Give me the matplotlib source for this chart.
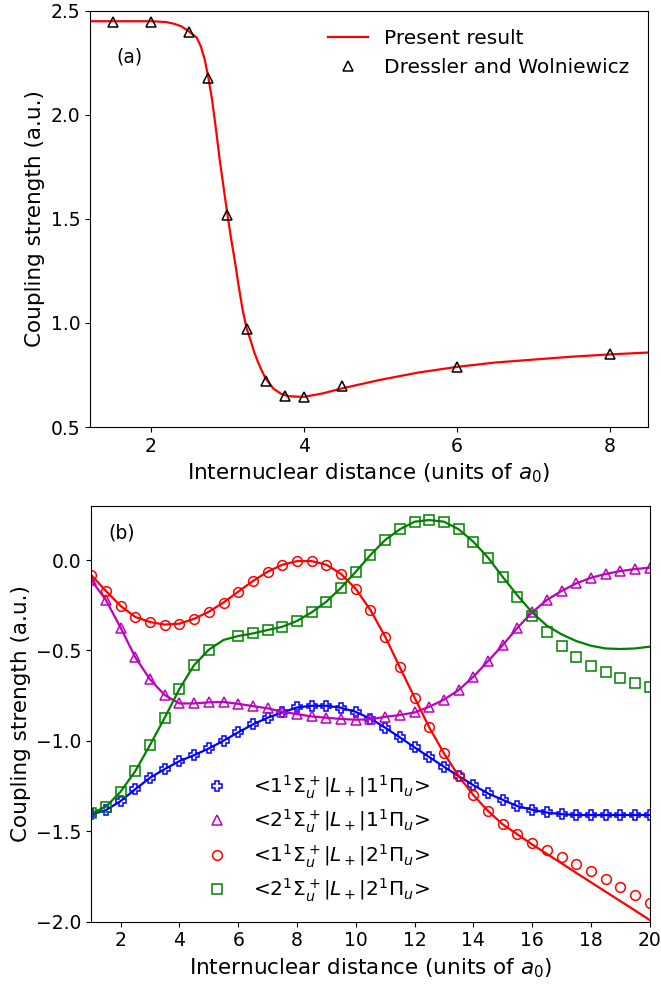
import numpy as np
import matplotlib
matplotlib.use("Agg")
import matplotlib.pyplot as plt

# ---------------- panel (a): coupling strength vs R ----------------
a_line_r = [1.2, 2.0, 2.2, 2.3, 2.4, 2.5, 2.6, 2.65, 2.7, 2.75, 2.8, 2.85,
            2.9, 2.95, 3.0, 3.05, 3.1, 3.15, 3.2, 3.25, 3.3, 3.35, 3.4, 3.45,
            3.5, 3.6, 3.7, 3.8, 4.0, 4.25, 4.5, 5.0, 5.5, 6.0, 6.5, 7.0,
            7.5, 8.0, 8.5]
a_line_val = [2.45, 2.45, 2.446, 2.438, 2.425, 2.40, 2.37, 2.33, 2.27, 2.18,
              2.07, 1.93, 1.78, 1.65, 1.52, 1.40, 1.29, 1.17, 1.06, 0.975,
              0.92, 0.86, 0.812, 0.77, 0.733, 0.685, 0.66, 0.648, 0.645,
              0.662, 0.686, 0.727, 0.762, 0.789, 0.81, 0.824, 0.838, 0.849,
              0.858]
dw_r = [1.5, 2.0, 2.5, 2.75, 3.0, 3.25, 3.5, 3.75, 4.0, 4.5, 6.0, 8.0]
dw_val = [2.447, 2.444, 2.396, 2.178, 1.521, 0.973, 0.721, 0.649, 0.644,
          0.697, 0.789, 0.853]

# ---------------- panel (b): four L+ matrix elements ----------------
r_b = np.arange(1.0, 20.01, 0.5)

s1p1 = [-1.407, -1.383, -1.333, -1.267, -1.204, -1.156, -1.112, -1.079,
        -1.042, -0.999, -0.953, -0.909, -0.872, -0.843, -0.815, -0.806,
        -0.806, -0.817, -0.840, -0.877, -0.927, -0.981, -1.036, -1.090,
        -1.143, -1.195, -1.245, -1.291, -1.326, -1.361, -1.381, -1.396,
        -1.405, -1.41, -1.41, -1.41, -1.41, -1.41, -1.41]

s2p1 = [-0.111, -0.221, -0.374, -0.538, -0.660, -0.747, -0.793, -0.793,
        -0.787, -0.785, -0.795, -0.808, -0.820, -0.839, -0.852, -0.865,
        -0.872, -0.879, -0.883, -0.881, -0.867, -0.857, -0.843, -0.811,
        -0.772, -0.719, -0.645, -0.559, -0.470, -0.374, -0.289, -0.221,
        -0.171, -0.129, -0.098, -0.077, -0.061, -0.050, -0.042]

s1p2 = [-0.083, -0.171, -0.254, -0.315, -0.343, -0.357, -0.352, -0.325,
        -0.286, -0.235, -0.175, -0.116, -0.065, -0.026, -0.006, -0.006,
        -0.026, -0.077, -0.160, -0.277, -0.424, -0.594, -0.761, -0.926,
        -1.069, -1.195, -1.300, -1.388, -1.462, -1.517, -1.562, -1.604,
        -1.641, -1.680, -1.720, -1.764, -1.807, -1.853, -1.899]
s1p2_line = s1p2[:30] + [-1.573, -1.625, -1.677, -1.730, -1.782, -1.834,
                         -1.886, -1.938, -1.991]

s2p2 = [-1.401, -1.364, -1.281, -1.167, -1.023, -0.872, -0.713, -0.581,
        -0.496, np.nan, -0.420, -0.406, -0.387, -0.369, -0.337, -0.289,
        -0.230, -0.153, -0.065, 0.028, 0.111, 0.170, 0.212, 0.221, 0.212,
        0.170, 0.101, 0.013, -0.094, -0.206, -0.308, -0.396, -0.474,
        -0.535, -0.584, -0.621, -0.653, -0.678, -0.702]
s2p2_line = (s2p2[:9] + [-0.442] + s2p2[10:29]
             + [-0.196, -0.290, -0.363, -0.411, -0.448, -0.474, -0.489,
                -0.492, -0.489, -0.479])

labels_b = [r"<$1^1\Sigma_u^+|L_+|1^1\Pi_u$>",
            r"<$2^1\Sigma_u^+|L_+|1^1\Pi_u$>",
            r"<$1^1\Sigma_u^+|L_+|2^1\Pi_u$>",
            r"<$2^1\Sigma_u^+|L_+|2^1\Pi_u$>"]

plt.rcParams.update({"axes.labelsize": 15.5,
                     "xtick.labelsize": 13.5, "ytick.labelsize": 13.5,
                     "legend.fontsize": 14.5})

fig = plt.figure(figsize=(6.61, 9.84), dpi=100)

# panel (a)
ax1 = fig.add_axes([0.136, 0.566, 0.844, 0.423])
ax1.plot(a_line_r, a_line_val, color="red", lw=1.6, label="Present result")
ax1.plot(dw_r, dw_val, ls="none", marker="^", ms=7, mfc="none", mec="black",
         mew=1.1, label="Dressler and Wolniewicz")
ax1.set_xlim(1.2, 8.5)
ax1.set_ylim(0.5, 2.5)
ax1.set_xticks([2, 4, 6, 8])
ax1.set_yticks([0.5, 1.0, 1.5, 2.0, 2.5])
ax1.set_xlabel("Internuclear distance (units of $a_0$)")
ax1.set_ylabel("Coupling strength (a.u.)")
ax1.text(0.048, 0.89, "(a)", transform=ax1.transAxes, fontsize=13.5,
         va="center", ha="left")
ax1.legend(loc="upper right", frameon=False)

# panel (b)
ax2 = fig.add_axes([0.138, 0.0633, 0.845, 0.4227])
series = [(s1p1, s1p1, "blue", "P"),
          (s2p1, s2p1, "m", "^"),
          (s1p2, s1p2_line, "red", "o"),
          (s2p2, s2p2_line, "green", "s")]
handles = []
for (pts, line, col, mk), lab in zip(series, labels_b):
    ax2.plot(r_b, line, color=col, lw=1.6)
    h, = ax2.plot(r_b, pts, ls="none", marker=mk, ms=7, mfc="none", mec=col,
                  mew=1.1, label=lab)
    handles.append(h)
ax2.set_xlim(1, 20)
ax2.set_ylim(-2.0, 0.3)
ax2.set_xticks(np.arange(2, 21, 2))
ax2.set_yticks([-2.0, -1.5, -1.0, -0.5, 0.0])
ax2.set_xlabel("Internuclear distance (units of $a_0$)")
ax2.set_ylabel("Coupling strength (a.u.)")
ax2.text(0.031, 0.934, "(b)", transform=ax2.transAxes, fontsize=13.5,
         va="center", ha="left")
ax2.legend(handles=handles, loc="lower left", bbox_to_anchor=(0.175, 0.023),
           borderaxespad=0, frameon=False, labelspacing=0.35)

fig.savefig("out.png", dpi=100)
